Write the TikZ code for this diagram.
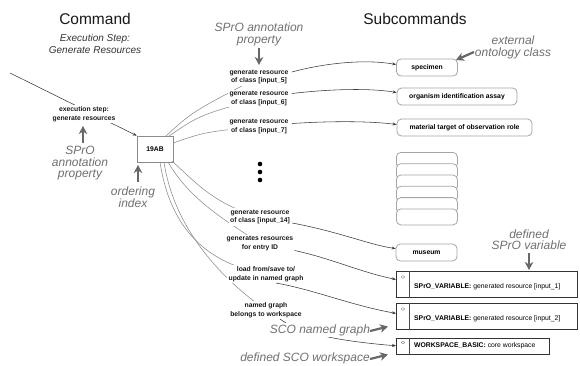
\documentclass[tikz,border=0pt]{standalone}
\usepackage{fontspec}
\setmainfont{Liberation Sans}
\usetikzlibrary{arrows.meta,calc,shapes.geometric}
\definecolor{anngray}{HTML}{707070}
\definecolor{arrgray}{HTML}{686868}
\definecolor{curvegray}{HTML}{8C8C8C}
\definecolor{darkline}{HTML}{3A3A3A}
\definecolor{boxgray}{HTML}{A5A5A5}
\definecolor{vline}{HTML}{333333}
\tikzset{
  ttl/.style={font=\fontsize{15.5}{17}\selectfont, text=black!90, inner sep=0pt},
  subttl/.style={font=\fontsize{10}{12}\selectfont\itshape, text=black!80, align=center, inner sep=0pt},
  ann/.style={font=\fontsize{12}{11.5}\selectfont\itshape, text=anngray, align=center, inner sep=0pt},
  lbl/.style={font=\fontsize{6.8}{8.8}\selectfont\bfseries, align=center, fill=white, inner sep=1.2pt, text=black!90},
  rbox/.style={draw=boxgray, line width=0.8pt, rounded corners=4.5pt, fill=white, inner sep=0pt, font=\fontsize{6.8}{8}\selectfont\bfseries, minimum height=17pt},
  cbox/.style={draw=curvegray, line width=0.7pt, inner sep=0pt, minimum width=36pt, minimum height=26pt, font=\fontsize{6.8}{8}\selectfont\bfseries},
  vbox/.style={draw=vline, line width=1.3pt, inner sep=0pt, anchor=north west},
  vtxt/.style={font=\fontsize{6.8}{8}\selectfont, inner sep=0pt, anchor=west},
  icon/.style={draw=black!45, line width=0.4pt, diamond, inner sep=0pt, minimum width=4pt, minimum height=3pt},
  dot/.style={circle, fill=black, inner sep=0pt, minimum size=4.6pt},
  gline/.style={draw=curvegray, line width=0.55pt},
  barrow/.style={draw=darkline, line width=0.55pt, -{Stealth[length=4pt,width=3pt]}},
  garrow/.style={draw=arrgray, line width=2.2pt, -{Stealth[length=8pt,width=8.5pt,inset=2.5pt]}},
}
\begin{document}
\begin{tikzpicture}[x=1pt,y=-1pt]
\useasboundingbox (0,0) rectangle (580,365);
\fill[white] (0,0) rectangle (580,365);

% titles
\node[ttl] (cmdT) at (95,19) {Command};
\node[subttl] (cmdS) at (95,44) {Execution Step:\\Generate Resources};
\node[ttl] (subT) at (415,19) {Subcommands};

% command box
\node[cbox] (c) at (155,149) {19AB};
\coordinate (in) at (10,73);
\draw[barrow] (in) -- (c.north west);

% right boxes
\node[rbox, minimum width=61pt] (spec) at (427,67.5) {specimen};
\node[rbox, minimum width=120pt] (org) at (457,96.5) {organism identification assay};
\node[rbox, minimum width=135pt] (mat) at (464.5,127.5) {material target of observation role};
\foreach \i in {0,...,5}
  \node[rbox, anchor=north west, minimum width=61pt, minimum height=16pt] (st\i) at (396,{152+11.3*\i}) {};
\node[rbox, minimum width=61pt] (mus) at (426.5,252.5) {museum};

% SPrO variable boxes
\node[vbox, minimum width=181pt, minimum height=26pt] (v1) at (396,271) {};
\node[vbox, minimum width=181pt, minimum height=26pt] (v2) at (396,303) {};
\node[vbox, minimum width=153pt, minimum height=16pt] (v3) at (396,338) {};
\foreach \v in {v1,v2,v3}{
  \draw[draw=black!70, line width=0.5pt] ($(\v.north west)+(13,0)$) -- ($(\v.south west)+(13,0)$);
}
\node[icon] (i1) at (403,277) {};
\node[icon] (i2) at (403,309) {};
\node[icon] (i3) at (403,342.5) {};
\node[vtxt] (t1) at (414,286.5) {\textbf{SPrO\_VARIABLE:} generated resource [input\_1]};
\node[vtxt] (t2) at (414,318.5) {\textbf{SPrO\_VARIABLE:} generated resource [input\_2]};
\node[vtxt] (t3) at (414,346) {\textbf{WORKSPACE\_BASIC:} core workspace};

% label positions (coordinates for curves)
\coordinate (L5p) at (259,77);
\coordinate (L6p) at (259,98.5);
\coordinate (L7p) at (259,126.5);
\coordinate (L14p) at (260,217);
\coordinate (LIDp) at (260,243.5);
\coordinate (Lloadp) at (266,274);
\coordinate (Lnamedp) at (266,310);

% gray curves from command box
\draw[gline] (166,136) .. controls (192,112) .. (L5p);
\draw[gline] (169,136) .. controls (200,115) .. (L6p);
\draw[gline] (173,143) .. controls (205,132) .. (L7p);
\draw[gline] (172,161) .. controls (195,182) and (215,205) .. (L14p);
\draw[gline] (168,162) .. controls (190,200) and (225,220) .. (LIDp);
\draw[gline] (160,162) .. controls (168,215) and (195,262) .. (Lloadp);
\draw[gline] (164,162) .. controls (175,235) and (230,285) .. (Lnamedp);

% labels
\node[lbl] (exec) at (84,114) {execution step:\\generate resources};
\node[lbl] (L5) at (L5p) {generate resource\\of class [input\_5]};
\node[lbl] (L6) at (L6p) {generate resource\\of class [input\_6]};
\node[lbl] (L7) at (L7p) {generate resource\\of class [input\_7]};
\node[lbl] (L14) at (L14p) {generate resource\\of class [input\_14]};
\node[lbl] (LID) at (LIDp) {generates resources\\for entry ID};
\node[lbl] (Lload) at (Lloadp) {load from/save to/\\update in named graph};
\node[lbl] (Lnamed) at (Lnamedp) {named graph\\belongs to workspace};

\node[dot] (d1) at (260,164) {};
\node[dot] (d2) at (260,172) {};
\node[dot] (d3) at (260,180) {};

% black arrows
\draw[barrow] ($(L5.east)+(2,-5)$) .. controls (325,63) and (365,59) .. ($(spec.west)+(0,-3)$);
\draw[barrow] ($(L6.east)+(2,-5)$) .. controls (330,89) and (370,88) .. ($(org.west)+(0,-4)$);
\draw[barrow] ($(L7.east)+(2,-3)$) .. controls (330,121) and (370,121) .. ($(mat.west)+(0,-3)$);
\draw[barrow] ($(L14.east)+(1,6)$) .. controls (340,232) and (370,245) .. ($(mus.west)+(0,-4)$);
\draw[barrow] ($(LID.east)+(0,7)$) .. controls (330,258) and (360,272) .. ($(v1.north west)!0.31!(v1.south west)$);
\draw[barrow] ($(Lload.south)+(10,0)$) .. controls (315,290) and (350,305) .. ($(v2.north west)!0.38!(v2.south west)$);
\draw[barrow] ($(Lnamed.south)+(14,0)$) .. controls (300,335) and (350,342) .. ($(v3.north west)!0.45!(v3.south west)$);

% gray annotations
\node[ann] (aTop) at (259,34.5) {SPrO annotation\\property};
\draw[garrow] (259,48) -- (259,65);
\node[ann] (aLeft) at (80,163.5) {SPrO\\annotation\\property};
\draw[garrow] (83,143) -- (83,126);
\node[ann] (aOrd) at (133,197) {ordering\\index};
\draw[garrow] (138,182) -- (138,165);
\node[ann] (aExt) at (513,47.5) {external\\ontology class};
\draw[garrow] (474,52) -- (456,60);
\node[ann] (aVar) at (529,239.5) {defined\\SPrO variable};
\draw[garrow] (529,253) -- (529,270);
\node[ann, fill=white, inner sep=1pt] (aSCO) at (320,330) {SCO named graph};
\draw[garrow] (370,331) -- (388,326.5);
\node[ann] (aWS) at (305,358) {defined SCO workspace};
\draw[garrow] (370,359) -- (388,354.5);
\end{tikzpicture}
\end{document}
